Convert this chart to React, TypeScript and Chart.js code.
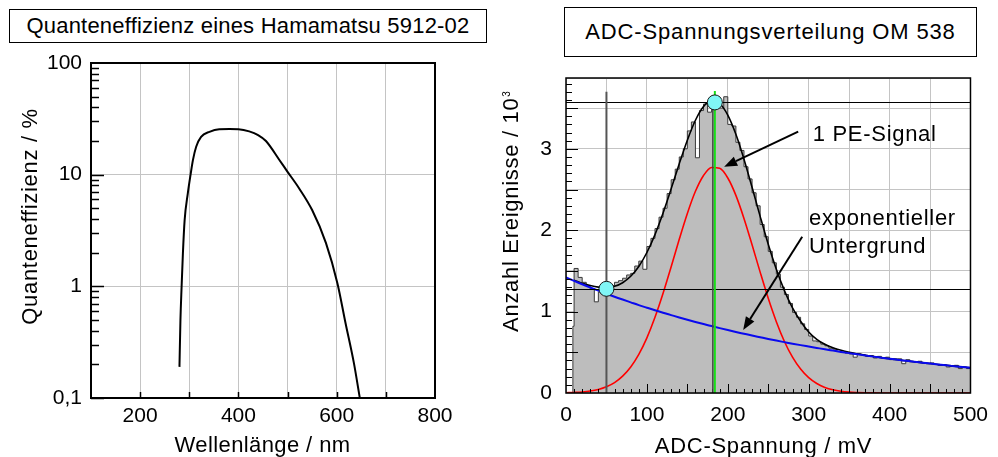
import React, { useEffect, useRef } from 'react';
import { Chart, registerables } from 'chart.js';

Chart.register(...registerables);

const FONT = '"Liberation Sans", Arial, Helvetica, sans-serif';
const TEXT_SIZE = 22;
const TEXT_SPACING = '0.7px';

// ---------------- Left panel: quantum efficiency ----------------
const qeTitle = 'Quanteneffizienz eines Hamamatsu 5912-02';
const qeXLabel = 'Wellenlänge / nm';
const qeYLabel = 'Quanteneffizienz / %';
const qeWavelength = [280, 282, 284.4, 287, 290.5, 297, 302.6, 307.4, 314, 324, 341, 361, 382, 400, 422, 440, 456, 483, 500, 523, 550, 578, 601.5, 618, 635, 647];
const qeEfficiency = [0.19, 0.5, 1.0, 1.97, 3.9, 6.8, 10, 13.5, 17.8, 21.8, 24.2, 25.5, 25.6, 25.5, 24.4, 22.6, 20.0, 13.6, 10.6, 7.6, 4.82, 2.45, 1.06, 0.467, 0.205, 0.1];
const qeXLabels = [200, 400, 600, 800];
const qeYTicks = [0.1, 1, 10, 100];
const qeYTickLabels = ['0,1', '1', '10', '100'];

// ---------------- Right panel: ADC distribution ----------------
const adcTitle = 'ADC-Spannungsverteilung OM 538';
const adcXLabel = 'ADC-Spannung / mV';
const adcYLabel = 'Anzahl Ereignisse / 10';
const adcYLabelExp = '3';
const adcXLabels = [0, 100, 200, 300, 400, 500];
const adcYLabels = [0, 1, 2, 3];

const histFirstEdge = 8.5;
const histFirstCount = 0.82;
const histStart = 10;
const histBinWidth = 5;
const histCounts = [
  1.53, 1.42, 1.36, 1.32, 1.28, 1.12, 1.24, 1.25, 1.27, 1.32,
  1.36, 1.38, 1.41, 1.45, 1.47, 1.56, 1.62, 1.52, 1.80, 1.90,
  2.02, 2.16, 2.27, 2.45, 2.62, 2.75, 2.90, 3.00, 3.22, 3.33,
  2.89, 3.47, 3.55, 3.45, 3.52, 3.56, 3.50, 3.64, 3.30, 3.28,
  3.08, 2.98, 2.78, 2.63, 2.46, 2.30, 2.07, 1.92, 1.74, 1.60,
  1.46, 1.30, 1.21, 1.10, 0.99, 0.93, 0.85, 0.78, 0.70, 0.64,
  0.63, 0.60, 0.58, 0.55, 0.54, 0.51, 0.50, 0.49, 0.48, 0.44,
  0.48, 0.47, 0.45, 0.46, 0.43, 0.45, 0.43, 0.44, 0.41, 0.42,
  0.42, 0.36, 0.41, 0.39, 0.38, 0.39, 0.37, 0.36, 0.37, 0.35,
  0.34, 0.35, 0.32, 0.33, 0.34, 0.30, 0.32, 0.30,
];

const fitX = [
  0, 10, 20, 30, 40, 50, 60, 70, 80, 90, 100, 110, 120, 130, 140, 150, 160, 170, 180, 190,
  200, 210, 220, 230, 240, 250, 260, 270, 280, 290, 300, 310, 320, 330, 340, 350, 360, 370, 380, 390,
  400, 410, 420, 430, 440, 450, 460, 470, 480, 490, 500,
];
const fitSignal = [
  0.003, 0.007, 0.013, 0.024, 0.044, 0.077, 0.128, 0.207, 0.320, 0.475,
  0.678, 0.930, 1.225, 1.551, 1.888, 2.206, 2.478, 2.673, 2.771, 2.760,
  2.641, 2.428, 2.145, 1.821, 1.485, 1.163, 0.876, 0.633, 0.440, 0.294,
  0.188, 0.116, 0.069, 0.039, 0.021, 0.011, 0.006, 0.003, 0.001, 0,
  0, 0, 0, 0, 0, 0, 0, 0, 0, 0, 0,
];
const fitBackground = [
  1.420, 1.378, 1.336, 1.296, 1.257, 1.220, 1.183, 1.148, 1.114, 1.080,
  1.048, 1.016, 0.986, 0.957, 0.928, 0.900, 0.873, 0.847, 0.822, 0.797,
  0.773, 0.750, 0.728, 0.706, 0.685, 0.664, 0.644, 0.625, 0.606, 0.588,
  0.571, 0.554, 0.537, 0.521, 0.505, 0.490, 0.476, 0.461, 0.447, 0.434,
  0.421, 0.408, 0.396, 0.384, 0.373, 0.362, 0.351, 0.340, 0.330, 0.320, 0.311,
];
// total fit, starting at fitX[1] = 10 mV
const fitTotal = [
  1.385, 1.349, 1.320, 1.301, 1.297, 1.311, 1.355, 1.434, 1.555, 1.726,
  1.946, 2.211, 2.508, 2.816, 3.106, 3.351, 3.520, 3.593, 3.557, 3.414,
  3.178, 2.873, 2.527, 2.170, 1.827, 1.520, 1.258, 1.046, 0.882, 0.750,
  0.660, 0.598, 0.555, 0.524, 0.500, 0.481, 0.464, 0.448, 0.434, 0.421,
  0.408, 0.396, 0.384, 0.373, 0.362, 0.351, 0.340, 0.330, 0.320, 0.311,
];

const valleyMarker = { x: 50, y: 1.28, top: 3.70 };
const peakMarker = { x: 184, y: 3.57, top: 3.71 };
const signalArrow = { x0: 287, y0: 3.21, x1: 195.5, y1: 2.78 };
const backgroundArrow = { x0: 292, y0: 1.92, x1: 219, y1: 0.775 };
const signalText = { text: '1 PE-Signal', x: 305, y: 3.09 };
const backgroundText = [
  { text: 'exponentieller', x: 300.5, y: 2.07 },
  { text: 'Untergrund', x: 300.5, y: 1.72 },
];

function line(ctx: CanvasRenderingContext2D, x0: number, y0: number, x1: number, y1: number) {
  ctx.beginPath();
  ctx.moveTo(x0, y0);
  ctx.lineTo(x1, y1);
  ctx.stroke();
}

function setTextFont(ctx: any, size = TEXT_SIZE, spacing = TEXT_SPACING) {
  ctx.font = `${size}px ${FONT}`;
  try {
    ctx.letterSpacing = spacing;
  } catch (e) {
    /* ignore */
  }
}

const qePlugin = {
  id: 'qeOverlay',
  afterDatasetsDraw(chart: any) {
    const { ctx, chartArea: a, scales } = chart;
    const xs = scales.x;
    const ys = scales.y;
    ctx.save();
    ctx.strokeStyle = '#000';
    ctx.lineWidth = 1.5;
    for (const d of [0.1, 1, 10]) {
      for (let m = 1; m <= 9; m++) {
        const py = Math.round(ys.getPixelForValue(d * m)) + 0.5;
        line(ctx, a.left, py, a.left + (m === 1 ? 13 : 8), py);
      }
    }
    for (let v = 200; v < 800; v += 100) {
      const px = Math.round(xs.getPixelForValue(v)) + 0.5;
      line(ctx, px, a.bottom, px, a.bottom - 6);
    }
    ctx.lineWidth = 2;
    ctx.strokeRect(a.left, a.top, a.right - a.left, a.bottom - a.top);
    ctx.fillStyle = '#000';
    setTextFont(ctx, TEXT_SIZE, '0.4px');
    ctx.textAlign = 'center';
    ctx.textBaseline = 'alphabetic';
    ctx.fillText(qeXLabel, 262.5, 452);
    setTextFont(ctx);
    ctx.translate(36.7, 216.5);
    ctx.rotate(-Math.PI / 2);
    ctx.fillText(qeYLabel, 0, 0);
    ctx.restore();
  },
};

function arrow(ctx: CanvasRenderingContext2D, x0: number, y0: number, x1: number, y1: number) {
  const ang = Math.atan2(y1 - y0, x1 - x0);
  const len = 13;
  const hw = 5;
  const bx = x1 - len * Math.cos(ang);
  const by = y1 - len * Math.sin(ang);
  ctx.lineWidth = 2;
  line(ctx, x0, y0, bx, by);
  ctx.beginPath();
  ctx.moveTo(x1, y1);
  ctx.lineTo(bx + hw * Math.sin(ang), by - hw * Math.cos(ang));
  ctx.lineTo(bx - hw * Math.sin(ang), by + hw * Math.cos(ang));
  ctx.closePath();
  ctx.fill();
}

const adcPlugin = {
  id: 'adcOverlay',
  afterDatasetsDraw(chart: any) {
    const { ctx, chartArea: a, scales } = chart;
    const xs = scales.x;
    const ys = scales.y;
    const X = (v: number) => xs.getPixelForValue(v);
    const Y = (v: number) => ys.getPixelForValue(v);
    ctx.save();
    // inward ticks
    ctx.strokeStyle = '#000';
    ctx.lineWidth = 1;
    for (let i = 1; i <= 38; i++) {
      const py = Math.round(Y(i / 10)) + 0.5;
      line(ctx, a.left, py, a.left + (i % 5 === 0 ? 12 : 6), py);
    }
    for (let i = 1; i < 50; i++) {
      const px = Math.round(X(i * 10)) + 0.5;
      line(ctx, px, a.bottom, px, a.bottom - (i % 5 === 0 ? 9 : 4));
    }
    // horizontal marker lines
    ctx.strokeStyle = '#000';
    ctx.lineWidth = 1;
    for (const m of [valleyMarker, peakMarker]) {
      const py = Math.round(Y(m.y)) + 0.5;
      line(ctx, a.left, py, a.right, py);
    }
    // vertical marker lines
    ctx.strokeStyle = '#555';
    ctx.lineWidth = 2;
    line(ctx, X(valleyMarker.x), Y(valleyMarker.top), X(valleyMarker.x), a.bottom);
    ctx.strokeStyle = '#444';
    ctx.lineWidth = 1.5;
    line(ctx, X(peakMarker.x) - 2, Y(3.5), X(peakMarker.x) - 2, a.bottom);
    ctx.strokeStyle = '#18e018';
    ctx.lineWidth = 2;
    line(ctx, X(peakMarker.x), Y(peakMarker.top), X(peakMarker.x), a.bottom);
    // border
    ctx.strokeStyle = '#000';
    ctx.lineWidth = 1.5;
    ctx.strokeRect(a.left, a.top, a.right - a.left, a.bottom - a.top);
    // arrows
    ctx.fillStyle = '#000';
    ctx.strokeStyle = '#000';
    for (const ar of [signalArrow, backgroundArrow]) {
      arrow(ctx, X(ar.x0), Y(ar.y0), X(ar.x1), Y(ar.y1));
    }
    // annotation text
    setTextFont(ctx);
    ctx.textAlign = 'left';
    ctx.textBaseline = 'alphabetic';
    for (const t of [signalText, ...backgroundText]) {
      ctx.fillText(t.text, X(t.x), Y(t.y));
    }
    // markers
    ctx.fillStyle = '#80f6f6';
    ctx.strokeStyle = '#1a1a1a';
    ctx.lineWidth = 1;
    for (const m of [valleyMarker, peakMarker]) {
      ctx.beginPath();
      ctx.arc(X(m.x), Y(m.y), 7.5, 0, Math.PI * 2);
      ctx.fill();
      ctx.stroke();
    }
    // axis titles
    ctx.fillStyle = '#000';
    setTextFont(ctx);
    ctx.textAlign = 'center';
    ctx.fillText(adcXLabel, 268.5, 453);
    const mainW = ctx.measureText(adcYLabel).width;
    setTextFont(ctx, 10, '0px');
    const expW = ctx.measureText(adcYLabelExp).width;
    const total = mainW + 1 + expW;
    ctx.translate(23.3, 211.5);
    ctx.rotate(-Math.PI / 2);
    ctx.textAlign = 'left';
    setTextFont(ctx);
    ctx.fillText(adcYLabel, -total / 2, 0);
    setTextFont(ctx, 10, '0px');
    ctx.fillText(adcYLabelExp, -total / 2 + mainW + 1, -8);
    ctx.restore();
  },
};

const tickFont = { family: FONT, size: 21 };
const gridColor = '#c4c4c4';

export default function App() {
  const leftRef = useRef<HTMLCanvasElement | null>(null);
  const rightRef = useRef<HTMLCanvasElement | null>(null);

  useEffect(() => {
    if (!leftRef.current) return;
    const chart = new Chart(leftRef.current, {
      type: 'line',
      data: {
        datasets: [
          {
            data: qeWavelength.map((w, i) => ({ x: w, y: qeEfficiency[i] })),
            borderColor: '#000',
            borderWidth: 2,
            pointRadius: 0,
            cubicInterpolationMode: 'monotone',
            fill: false,
          },
        ],
      },
      options: {
        responsive: false,
        animation: false,
        layout: { padding: { top: 63, right: 60, bottom: 0, left: 0 } },
        plugins: { legend: { display: false }, tooltip: { enabled: false } },
        scales: {
          x: {
            type: 'linear',
            min: 100,
            max: 800,
            border: { display: false },
            grid: { color: gridColor, lineWidth: 1, drawTicks: false },
            ticks: {
              stepSize: 100,
              autoSkip: false,
              maxRotation: 0,
              minRotation: 0,
              padding: 6,
              color: '#000',
              font: tickFont,
              callback: (v: any) => (qeXLabels.includes(Number(v)) ? String(v) : ''),
            },
            afterFit: (s: any) => {
              s.height = 59;
            },
          },
          y: {
            type: 'logarithmic',
            min: 0.1,
            max: 100,
            border: { display: false },
            grid: { color: gridColor, lineWidth: 1, drawTicks: false },
            afterBuildTicks: (s: any) => {
              s.ticks = qeYTicks.map((v) => ({ value: v }));
            },
            ticks: {
              autoSkip: false,
              padding: 9,
              color: '#000',
              font: tickFont,
              callback: (v: any) => {
                const idx = qeYTicks.findIndex((t) => Math.abs(t - Number(v)) < 1e-9);
                return idx >= 0 ? qeYTickLabels[idx] : '';
              },
            },
            afterFit: (s: any) => {
              s.width = 91;
            },
          },
        },
      },
      plugins: [qePlugin],
    } as any);
    return () => chart.destroy();
  }, []);

  useEffect(() => {
    if (!rightRef.current) return;
    const histPoints: { x: number; y: number }[] = [
      { x: histFirstEdge, y: 0 },
      { x: histFirstEdge, y: histFirstCount },
    ];
    histCounts.forEach((c, i) => histPoints.push({ x: histStart + i * histBinWidth, y: c }));
    histPoints.push({ x: histStart + histCounts.length * histBinWidth, y: histCounts[histCounts.length - 1] });

    const chart = new Chart(rightRef.current, {
      type: 'line',
      data: {
        datasets: [
          {
            data: fitBackground.map((v, i) => ({ x: fitX[i], y: v })),
            borderColor: '#0a0aee',
            borderWidth: 2,
            pointRadius: 0,
            cubicInterpolationMode: 'monotone',
            fill: false,
            order: 1,
          },
          {
            data: fitSignal.map((v, i) => ({ x: fitX[i], y: v })),
            borderColor: '#ff0000',
            borderWidth: 1.6,
            pointRadius: 0,
            cubicInterpolationMode: 'monotone',
            fill: false,
            order: 2,
          },
          {
            data: fitTotal.map((v, i) => ({ x: fitX[i + 1], y: v })),
            borderColor: '#000',
            borderWidth: 1.6,
            pointRadius: 0,
            cubicInterpolationMode: 'monotone',
            fill: false,
            order: 3,
          },
          {
            data: histPoints,
            borderColor: '#3a3a3a',
            borderWidth: 1,
            backgroundColor: '#bdbdbd',
            pointRadius: 0,
            stepped: true,
            fill: 'origin',
            order: 4,
          },
        ],
      },
      options: {
        responsive: false,
        animation: false,
        layout: { padding: { top: 78, right: 21, bottom: 0, left: 0 } },
        plugins: { legend: { display: false }, tooltip: { enabled: false } },
        scales: {
          x: {
            type: 'linear',
            min: 0,
            max: 500,
            border: { display: false },
            grid: { color: gridColor, lineWidth: 1, drawTicks: false },
            ticks: {
              stepSize: 50,
              autoSkip: false,
              maxRotation: 0,
              minRotation: 0,
              padding: 10,
              color: '#000',
              font: tickFont,
              callback: (v: any) => (adcXLabels.includes(Number(v)) ? String(v) : ''),
            },
            afterFit: (s: any) => {
              s.height = 64;
            },
          },
          y: {
            type: 'linear',
            min: 0,
            max: 3.87,
            border: { display: false },
            grid: { color: gridColor, lineWidth: 1, drawTicks: false },
            ticks: {
              stepSize: 0.5,
              autoSkip: false,
              padding: 14,
              color: '#000',
              font: tickFont,
              callback: (v: any) => (adcYLabels.includes(Number(v)) ? String(v) : ''),
            },
            afterFit: (s: any) => {
              s.width = 71;
            },
          },
        },
      },
      plugins: [adcPlugin],
    } as any);
    return () => chart.destroy();
  }, []);

  const boxStyle: React.CSSProperties = {
    position: 'absolute',
    boxSizing: 'border-box',
    border: '1px solid #000',
    background: '#fff',
    display: 'flex',
    alignItems: 'center',
    justifyContent: 'center',
    fontFamily: FONT,
    fontSize: TEXT_SIZE,
    color: '#000',
    whiteSpace: 'nowrap',
  };

  return (
    <div style={{ position: 'absolute', left: 0, top: 0, width: 998, height: 457, background: '#fff', overflow: 'hidden' }}>
      <canvas ref={leftRef} width={495} height={457} style={{ position: 'absolute', left: 0, top: 0, width: 495, height: 457 }} />
      <canvas ref={rightRef} width={503} height={457} style={{ position: 'absolute', left: 495, top: 0, width: 503, height: 457 }} />
      <div style={{ ...boxStyle, left: 9, top: 9, width: 478, height: 34, letterSpacing: '0.2px' }}>{qeTitle}</div>
      <div style={{ ...boxStyle, left: 564, top: 7, width: 413, height: 50, letterSpacing: '0.85px' }}>{adcTitle}</div>
    </div>
  );
}
